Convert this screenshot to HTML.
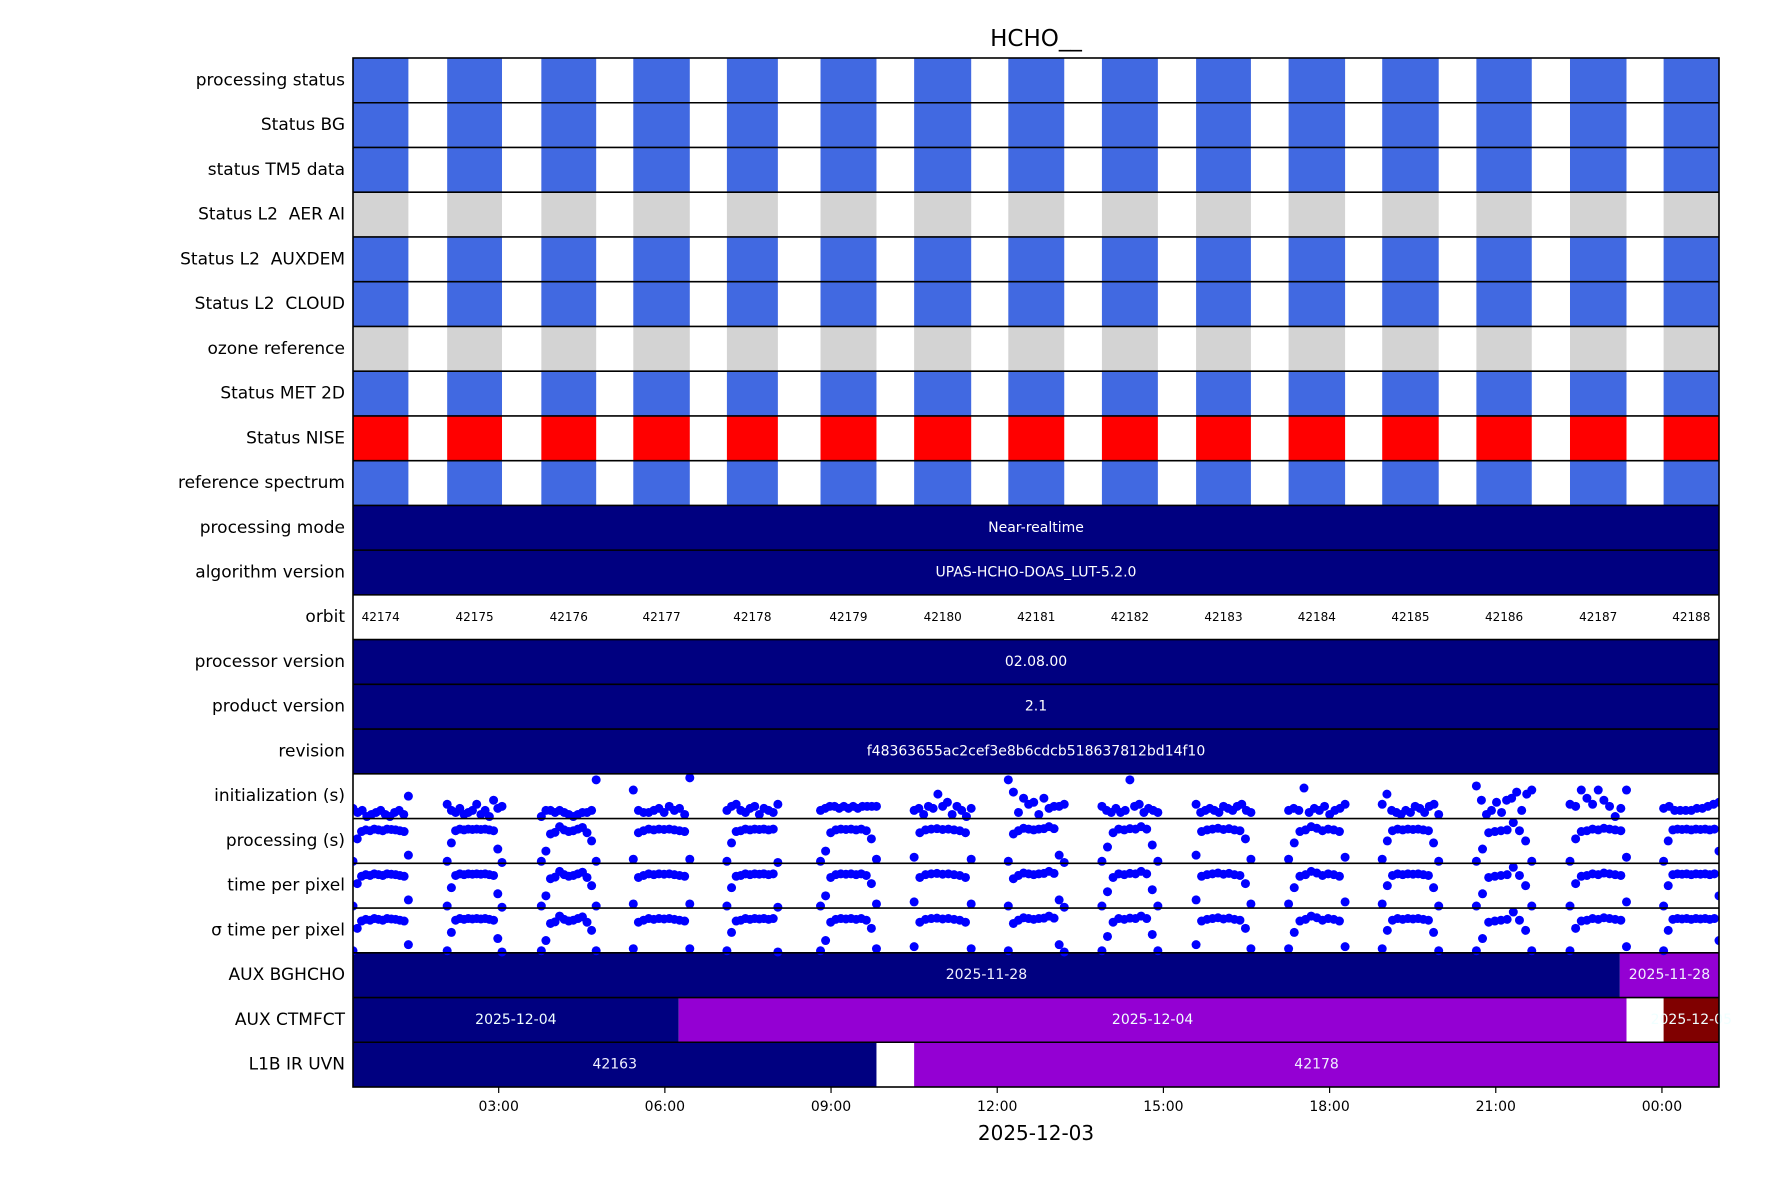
<!DOCTYPE html>
<html><head><meta charset="utf-8"><style>
body{margin:0;background:#fff}
svg text{font-family:"DejaVu Sans","Liberation Sans",sans-serif;white-space:pre}
</style></head><body>
<svg id="c" width="1771" height="1181" xmlns="http://www.w3.org/2000/svg" xml:space="preserve"></svg>
<script>
const rowNames=["processing status","Status BG","status TM5 data","Status L2  AER AI","Status L2  AUXDEM","Status L2  CLOUD","ozone reference","Status MET 2D","Status NISE","reference spectrum","processing mode","algorithm version","orbit","processor version","product version","revision","initialization (s)","processing (s)","time per pixel","σ time per pixel","AUX BGHCHO","AUX CTMFCT","L1B IR UVN"];
const statusColors=["#4169e1","#4169e1","#4169e1","#d3d3d3","#4169e1","#4169e1","#d3d3d3","#4169e1","#ff0000","#4169e1"];
const orbitStarts=[0.37,2.07,3.77,5.43,7.12,8.81,10.50,12.20,13.89,15.59,17.26,18.95,20.65,22.34,24.03];
const orbitEnds=[1.37,3.06,4.76,6.45,8.04,9.82,11.53,13.21,14.90,16.58,18.28,19.97,21.65,23.36,25.03];
const orbitNums=[42174,42175,42176,42177,42178,42179,42180,42181,42182,42183,42184,42185,42186,42187,42188];
const fullTexts=[["processing mode","Near-realtime"],["algorithm version","UPAS-HCHO-DOAS_LUT-5.2.0"],["processor version","02.08.00"],["product version","2.1"],["revision","f48363655ac2cef3e8b6cdcb518637812bd14f10"]];
const bgSegs=[[0.37,23.24,"#000080","2025-11-28"],[23.24,25.03,"#9400d3","2025-11-28"]];
const ctmSegs=[[0.37,6.25,"#000080","2025-12-04"],[6.25,23.36,"#9400d3","2025-12-04"],[24.03,25.03,"#800000","2025-12-05"]];
const l1bSegs=[[0.37,9.82,"#000080","42163"],[10.5,25.03,"#9400d3","42178"]];
const initVals=[
[0.25,0.15,0.2,0.05,0.1,0.15,0.2,0.1,0.05,0.15,0.2,0.1,0.55],
[0.35,0.2,0.15,0.25,0.1,0.15,0.2,0.35,0.1,0.2,0.05,0.45,0.25,0.3],
[0.05,0.2,0.2,0.15,0.2,0.15,0.1,0.05,0.1,0.15,0.15,0.2,0.95],
[0.7,0.2,0.15,0.15,0.2,0.25,0.15,0.3,0.2,0.25,0.1,1.0],
[0.2,0.3,0.35,0.2,0.15,0.25,0.3,0.1,0.25,0.2,0.15,0.35],
[0.2,0.25,0.3,0.3,0.25,0.3,0.25,0.3,0.25,0.3,0.3,0.3,0.3],
[0.2,0.25,0.1,0.3,0.25,0.6,0.3,0.4,0.1,0.3,0.2,0.05,0.25],
[0.95,0.65,0.15,0.5,0.35,0.4,0.1,0.5,0.25,0.3,0.3,0.35],
[0.3,0.2,0.15,0.25,0.15,0.2,0.95,0.3,0.35,0.15,0.25,0.2,0.15],
[0.35,0.15,0.2,0.25,0.2,0.15,0.3,0.25,0.2,0.3,0.35,0.2,0.15],
[0.2,0.25,0.2,0.75,0.15,0.25,0.2,0.3,0.1,0.2,0.25,0.35],
[0.35,0.6,0.2,0.15,0.1,0.2,0.15,0.3,0.25,0.15,0.3,0.35,0.1],
[0.8,0.45,0.1,0.2,0.4,0.15,0.45,0.5,0.65,0.2,0.6,0.7],
[0.35,0.3,0.7,0.5,0.35,0.7,0.45,0.3,0.05,0.25,0.7],
[0.25,0.3,0.2,0.2,0.2,0.2,0.25,0.25,0.3,0.35,0.4]];
const procVals=[
[0.05,0.6,0.78,0.82,0.8,0.84,0.82,0.8,0.84,0.83,0.82,0.8,0.78,0.2],
[0.05,0.5,0.8,0.84,0.82,0.84,0.83,0.84,0.83,0.84,0.82,0.8,0.35,0.02],
[0.05,0.3,0.72,0.76,0.9,0.82,0.78,0.8,0.84,0.88,0.75,0.55,0.05],
[0.1,0.75,0.8,0.84,0.82,0.84,0.83,0.84,0.82,0.8,0.78,0.1],
[0.05,0.5,0.78,0.8,0.84,0.82,0.84,0.83,0.84,0.82,0.84,0.02],
[0.05,0.3,0.75,0.82,0.84,0.83,0.84,0.82,0.84,0.8,0.6,0.1],
[0.15,0.75,0.82,0.84,0.85,0.83,0.84,0.82,0.8,0.75,0.1],
[0.05,0.72,0.8,0.86,0.84,0.82,0.84,0.85,0.9,0.85,0.2,0.02],
[0.05,0.4,0.75,0.84,0.82,0.85,0.84,0.9,0.84,0.45,0.05],
[0.2,0.78,0.82,0.84,0.86,0.83,0.85,0.82,0.8,0.6,0.1],
[0.1,0.5,0.78,0.82,0.9,0.86,0.8,0.84,0.82,0.78,0.15],
[0.1,0.55,0.8,0.84,0.82,0.84,0.83,0.84,0.82,0.8,0.5,0.05],
[0.05,0.35,0.75,0.78,0.8,0.82,1.0,0.8,0.55,0.05],
[0.05,0.6,0.78,0.8,0.84,0.82,0.86,0.84,0.82,0.8,0.15],
[0.05,0.55,0.82,0.84,0.83,0.84,0.82,0.84,0.83,0.84,0.82,0.84,0.3]];
const xTicks=[3,6,9,12,15,18,21,24];
const xTickLabels=["03:00","06:00","09:00","12:00","15:00","18:00","21:00","00:00"];

const L=353,R=1719,T=58,B=1087,H0=0.37,H1=25.03;
const rowH=(B-T)/rowNames.length;
const X=h=>L+(h-H0)/(H1-H0)*(R-L);
const Y=i=>T+i*rowH;
const svg=document.getElementById('c');
const NS="http://www.w3.org/2000/svg";
function mk(tag,at,parent){const e=document.createElementNS(NS,tag);for(const k in at)e.setAttribute(k,at[k]);(parent||svg).appendChild(e);return e;}
function txt(s,x,y,size,fill,anchor,parent){const t=mk('text',{x:x,y:y,'font-size':size,fill:fill,'text-anchor':anchor,'dominant-baseline':'central'},parent);t.textContent=s;return t;}
const clip=mk('clipPath',{id:'pc'});mk('rect',{x:L,y:T,width:R-L,height:B-T},clip);
const g=mk('g',{'clip-path':'url(#pc)'});



statusColors.forEach((col,i)=>{
  orbitStarts.forEach((s,j)=>{
    const r=mk('rect',{x:X(s),y:Y(i),width:X(orbitEnds[j])-X(s),height:rowH,fill:col},g);
    
    
  });
});
fullTexts.forEach(([name,label])=>{
  const i=rowNames.indexOf(name);
  const r=mk('rect',{x:L,y:Y(i),width:R-L,height:rowH,fill:'#000080'},g);
  
  
  const t=txt(label,(L+R)/2,Y(i)+rowH/2,14,'#fff','middle',g);
  
  
});
const oi=rowNames.indexOf('orbit');
orbitNums.forEach((n,j)=>{
  const t=txt(String(n),(X(orbitStarts[j])+X(Math.min(orbitEnds[j],H1)))/2,Y(oi)+rowH/2,12,'#000','middle',g);
  
  
});
function segRow(name,segs,tc){
  const i=rowNames.indexOf(name);
  segs.forEach(([a,b,col,lab])=>{
    const r=mk('rect',{x:X(a),y:Y(i),width:X(b)-X(a),height:rowH,fill:col},g);
    
    
  });
  segs.forEach(([a,b,col,lab])=>{
    const t=txt(lab,(X(a)+X(b))/2,Y(i)+rowH/2,14,tc,'middle',svg);
    
    
  });
}
segRow('AUX BGHCHO',bgSegs,'#f0f0ff');
segRow('AUX CTMFCT',ctmSegs,'#f0ffff');
segRow('L1B IR UVN',l1bSegs,'#f0f0ff');
function scatter(name,vals){
  const i=rowNames.indexOf(name);
  vals.forEach((arr,j)=>{
    const s=orbitStarts[j],e=orbitEnds[j];
    arr.forEach((v,k)=>{
      const h=s+(e-s)*k/(arr.length-1);
      const c=mk('circle',{cx:X(h),cy:Y(i)+rowH-(v*(rowH-4)),r:4.5,fill:'#0000ff'},g);
      
      
    });
  });
}
scatter('initialization (s)',initVals);
scatter('processing (s)',procVals);
scatter('time per pixel',procVals);
scatter('σ time per pixel',procVals);
for(let i=1;i<rowNames.length;i++){
  const l=mk('line',{x1:L,x2:R,y1:Y(i),y2:Y(i),stroke:'#000','stroke-width':1.6});
  
  
}
const fr=mk('rect',{x:L,y:T,width:R-L,height:B-T,fill:'none',stroke:'#000','stroke-width':1.6});


rowNames.forEach((n,i)=>{
  const t=txt(n,L-8,Y(i)+rowH/2,17,'#000','end');
  
  
});
xTicks.forEach((h,k)=>{
  const l=mk('line',{x1:X(h),x2:X(h),y1:B,y2:B+6,stroke:'#000','stroke-width':1.2});
  
  
  const t=txt(xTickLabels[k],X(h),B+20,14,'#000','middle');
  
  
});
const xt=txt('2025-12-03',(L+R)/2,1133,20,'#000','middle');


const tt=txt('HCHO__',(L+R)/2,39,23,'#000','middle');


</script>
</body></html>
